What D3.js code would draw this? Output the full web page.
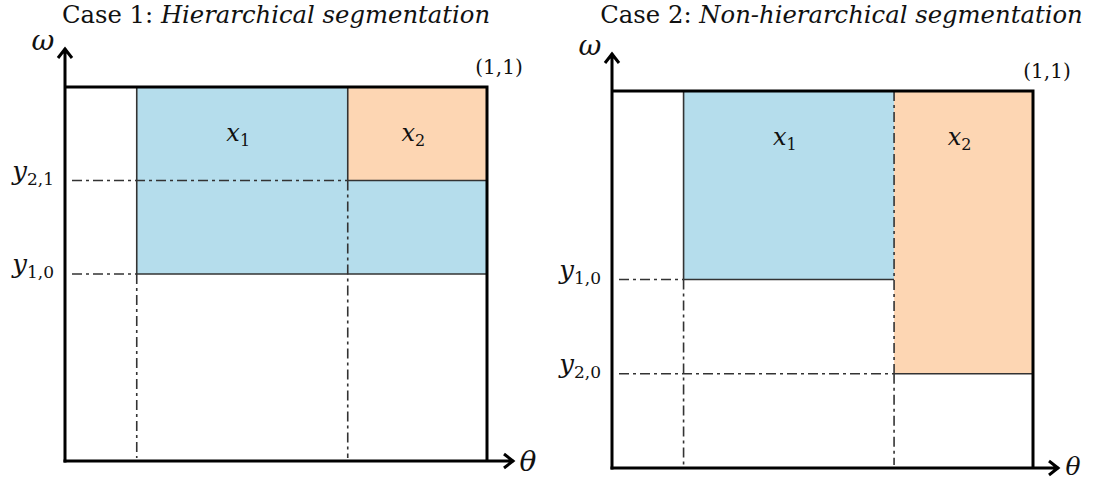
<!DOCTYPE html>
<html>
<head>
<meta charset="utf-8">
<script src="https://cdn.jsdelivr.net/npm/d3@7"></script>
<style>
  html, body { margin: 0; padding: 0; background: #fff; }
  svg { display: block; }
  text { font-family: "DejaVu Serif", "Liberation Serif", serif; fill: #111; }
</style>
</head>
<body>
<svg id="chart" width="1094" height="482"></svg>
<script>
// Two unit-square panels over (theta, omega); (1,1) is the top-right corner.
const panelTitles = ["Case 1: ", "Case 2: "];
const panelTitleItalic = ["Hierarchical segmentation", "Non-hierarchical segmentation"];

// Segment rectangles per panel: [theta0, theta1, omega0, omega1]
const segmentNames = ["x", "x"];
const segmentSubs = ["1", "2"];
const segmentColors = ["#b5ddec", "#fdd6b3"];
const case1Segments = [[0.17, 1.0, 0.5, 1.0], [0.67, 1.0, 0.75, 1.0]];
const case2Segments = [[0.17, 0.67, 0.5, 1.0], [0.67, 1.0, 0.25, 1.0]];

// Threshold tick labels on the omega axis
const case1Thresholds = [0.75, 0.5];
const case1ThresholdSubs = ["2,1", "1,0"];
const case2Thresholds = [0.5, 0.25];
const case2ThresholdSubs = ["1,0", "2,0"];

const cornerLabel = "(1,1)";

const svg = d3.select("#chart");

const panels = [
  { x: d3.scaleLinear().domain([0, 1]).range([65, 487]),
    y: d3.scaleLinear().domain([0, 1]).range([461, 87]),
    yTip: 48, xTip: 514, thetaSize: 28,
    segs: case1Segments, th: case1Thresholds, thSubs: case1ThresholdSubs,
    title: 0, hier: true },
  { x: d3.scaleLinear().domain([0, 1]).range([612, 1033]),
    y: d3.scaleLinear().domain([0, 1]).range([468, 91]),
    yTip: 53, xTip: 1059, thetaSize: 25,
    segs: case2Segments, th: case2Thresholds, thSubs: case2ThresholdSubs,
    title: 1, hier: false }
];

const dashDot = "10,4,3,4";
const lineGrey = "#333";

panels.forEach(p => {
  const g = svg.append("g");
  const X = p.x, Y = p.y;

  // Title
  const cx = (X(0) + X(1)) / 2 + (p.hier ? 0 : 19);
  const t = g.append("text")
    .attr("x", cx).attr("y", 23)
    .attr("text-anchor", "middle")
    .attr("font-size", 24.3);
  t.append("tspan").text(panelTitles[p.title]);
  t.append("tspan").attr("font-style", "italic").text(panelTitleItalic[p.title]);

  // Segment fills
  g.selectAll("rect.seg").data(p.segs).join("rect")
    .attr("class", "seg")
    .attr("x", d => X(d[0]))
    .attr("y", d => Y(d[3]))
    .attr("width", d => X(d[1]) - X(d[0]))
    .attr("height", d => Y(d[2]) - Y(d[3]))
    .attr("fill", (d, i) => segmentColors[i]);

  // Dash-dot guide lines: thresholds from the axis, and segment edges down to theta axis
  const guides = [];
  p.segs.forEach(s => {
    guides.push([X(0) + 7, Y(s[2]), X(s[0]), Y(s[2])]);     // horizontal to segment corner
    guides.push([X(s[0]), Y(s[2]), X(s[0]), Y(0) - 3]);      // vertical down to axis
  });
  if (!p.hier) {
    // shared boundary between the two segments
    const s = p.segs[1];
    guides.push([X(s[0]), Y(1), X(s[0]), Y(s[2])]);
  }
  g.selectAll("line.guide").data(guides).join("line")
    .attr("class", "guide")
    .attr("x1", d => d[0]).attr("y1", d => d[1])
    .attr("x2", d => d[2]).attr("y2", d => d[3])
    .attr("stroke", lineGrey).attr("stroke-width", 1.6)
    .attr("stroke-dasharray", dashDot);

  // Solid segment edges: bottom edges, and left edges where they are not shared
  const edges = [];
  p.segs.forEach((s, i) => {
    edges.push([X(s[0]), Y(s[2]), X(s[1]), Y(s[2])]);   // bottom
    if (p.hier || i === 0) edges.push([X(s[0]), Y(s[3]), X(s[0]), Y(s[2])]); // left
  });
  g.selectAll("line.edge").data(edges).join("line")
    .attr("class", "edge")
    .attr("x1", d => d[0]).attr("y1", d => d[1])
    .attr("x2", d => d[2]).attr("y2", d => d[3])
    .attr("stroke", lineGrey).attr("stroke-width", 1.6);

  // Segment labels, centred in the visible top strip of each segment
  p.segs.forEach((s, i) => {
    let right = s[1];
    p.segs.forEach((o, j) => {
      if (j > i && o[0] > s[0] && o[0] < right) right = o[0];
    });
    const lt = g.append("text")
      .attr("x", (X(s[0]) + X(right)) / 2 - 4)
      .attr("y", Y(0.875) + 7)
      .attr("text-anchor", "middle")
      .attr("font-size", 24);
    lt.append("tspan").attr("font-style", "italic").text(segmentNames[i]);
    lt.append("tspan").attr("font-size", 16).attr("dy", 5).text(segmentSubs[i]);
  });

  // Threshold labels
  p.th.forEach((v, i) => {
    const tl = g.append("text")
      .attr("x", X(0) - 11)
      .attr("y", Y(v) - 1)
      .attr("text-anchor", "end")
      .attr("font-size", 26);
    tl.append("tspan").attr("font-style", "italic").text("y");
    tl.append("tspan").attr("font-size", 17).attr("dy", 5).text(p.thSubs[i]);
  });

  // Frame: top and right borders
  g.append("path")
    .attr("d", `M${X(0)},${Y(1)}H${X(1)}V${Y(0)}`)
    .attr("fill", "none").attr("stroke", "#000").attr("stroke-width", 3);

  // Axes with open arrowheads
  g.append("path")
    .attr("d", `M${X(0)},${Y(0) + 1.5}V${p.yTip}M${X(0) - 7},${p.yTip + 10}L${X(0)},${p.yTip + 1}L${X(0) + 7},${p.yTip + 10}`)
    .attr("fill", "none").attr("stroke", "#000").attr("stroke-width", 3)
    .attr("stroke-linejoin", "miter");
  g.append("path")
    .attr("d", `M${X(0) - 1.5},${Y(0)}H${p.xTip}M${p.xTip - 10},${Y(0) - 7}L${p.xTip - 1},${Y(0)}L${p.xTip - 10},${Y(0) + 7}`)
    .attr("fill", "none").attr("stroke", "#000").attr("stroke-width", 3)
    .attr("stroke-linejoin", "miter");

  // Axis names
  g.append("text").attr("x", X(0) - 22).attr("y", p.yTip + 2)
    .attr("text-anchor", "middle").attr("font-size", 28)
    .attr("font-style", "italic").text("ω");
  g.append("text").attr("x", p.xTip + 14).attr("y", Math.min(Y(0) + 10, 475))
    .attr("text-anchor", "middle").attr("font-size", p.thetaSize)
    .attr("font-style", "italic").text("θ");

  // Corner label
  g.append("text").attr("x", X(1) + (p.hier ? 12 : 14)).attr("y", Y(1) - 13)
    .attr("text-anchor", "middle").attr("font-size", 20).text(cornerLabel);
});
</script>
</body>
</html>
